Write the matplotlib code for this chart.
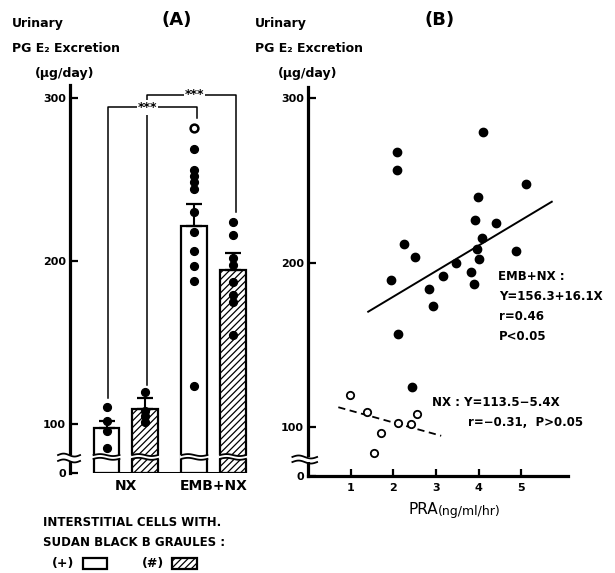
import numpy as np
import matplotlib
matplotlib.use("Agg")
import matplotlib.pyplot as plt
import matplotlib.transforms as mtransforms
from matplotlib.patches import Rectangle, Polygon

plt.rcParams['font.family'] = ['DejaVu Sans']
plt.rcParams['hatch.linewidth'] = 0.9

# ---------------- data ----------------
groups = ["NX", "EMB+NX"]
bar_means = [97.7, 109.2, 221.5, 194.5]
bar_sem = [4.2, 6.6, 13.5, 10.5]
bar_hatched = [False, True, False, True]

dots_nx_plus = [110.5, 101.7, 95.8, 85.1]
dots_nx_pp = [119.8, 108.0, 105.0, 101.5]
dots_emb_plus = [268.7, 255.8, 252.3, 248.7, 244.2, 230.2, 218.0, 206.1, 196.9, 187.9, 123.5]
dots_emb_plus_open = [281.4]
dots_emb_pp = [224.1, 216.0, 201.7, 197.5, 187.3, 179.1, 175.0, 154.6]

sig_labels = ["***", "***"]

emb_x = [2.09, 2.09, 4.11, 5.11, 3.98, 3.92, 4.41, 4.07, 3.95, 2.26, 2.51,
         4.87, 4.00, 3.47, 3.17, 3.81, 1.94, 2.84, 3.88, 2.92, 2.10, 2.43]
emb_y = [267.4, 256.3, 279.3, 247.6, 240.2, 226.2, 224.4, 214.8, 208.5, 211.6, 203.4,
         206.9, 202.4, 199.6, 191.8, 194.3, 189.2, 183.9, 187.2, 173.5, 156.3, 124.4]
nx_x = [0.98, 1.39, 2.11, 2.42, 2.55, 1.70, 1.55]
nx_y = [119.3, 109.1, 102.0, 101.6, 107.7, 95.9, 84.0]

emb_line_x = [1.41, 5.71]
emb_line_y = [170.1, 237.1]
nx_line_x = [0.71, 3.12]
nx_line_y = [111.9, 94.5]

yticks = [0, 100, 200, 300]
xticks_b = [1, 2, 3, 4, 5]

# ---------------- helpers ----------------
W, H = 615, 573
def fx(px): return px / W
def fy(py): return 1 - py / H

def fwd(v):
    v = np.asarray(v, float)
    return np.where(v < 80, v * 0.125, v - 70)
def inv(u):
    u = np.asarray(u, float)
    return np.where(u < 10, u / 0.125, u + 70)

fig = plt.figure(figsize=(W / 100, H / 100), dpi=100)
fig.patch.set_facecolor('white')

def style_axis(ax):
    ax.set_yscale('function', functions=(fwd, inv))
    for s in ['top', 'right']:
        ax.spines[s].set_visible(False)
    ax.spines['left'].set_linewidth(2.3)
    ax.set_yticks(yticks)
    ax.set_yticklabels([str(t) for t in yticks], fontsize=8, fontweight='bold')
    ax.tick_params(axis='y', direction='in', length=6, width=1.6, pad=3)

def axis_break(ax, f_lo, f_hi, x0, x1):
    tf = ax.transLimits + ax.transAxes
    bt = mtransforms.blended_transform_factory(ax.transAxes, tf)
    ax.add_patch(Rectangle((-0.02, f_lo), 0.04, f_hi - f_lo, transform=bt,
                           facecolor='white', edgecolor='none', zorder=5, clip_on=False))
    xs = np.linspace(x0, x1, 40)
    ph = np.linspace(0, 2 * np.pi, 40)
    for fc in (f_lo, f_hi):
        ax.plot(xs, fc + 0.9 * np.sin(ph), transform=bt, color='k', lw=1.3,
                zorder=6, clip_on=False)

# ---------------- Panel A ----------------
axA = fig.add_axes([fx(70), fy(473), (260 - 70) / W, (473 - 85) / H])
style_axis(axA)
axA.set_ylim(0, 308)
axA.set_xlim(-0.634, 1.526)
axA.spines['bottom'].set_visible(False)

gpos = np.arange(len(groups))
off, bw = 0.219, 0.295
bx = np.array([gpos[0] - off, gpos[0] + off, gpos[1] - off, gpos[1] + off])

for x, m, h in zip(bx, bar_means, bar_hatched):
    axA.bar(x, m, width=bw, bottom=0, facecolor='white', edgecolor='k',
            linewidth=1.6, hatch='/////' if h else None, zorder=2)
axA.errorbar(bx, bar_means, yerr=[np.zeros(4), bar_sem], fmt='none', ecolor='k',
             elinewidth=1.5, capsize=6, capthick=1.6, zorder=3)
axA.hlines(0, bx[0] - bw / 2, bx[-1] + bw / 2, color='k', lw=2.2, zorder=4)

# bar breaks
tfA = axA.transLimits + axA.transAxes
for x in bx:
    xs = np.linspace(x - bw / 2, x + bw / 2, 40)
    ph = np.linspace(0, 2 * np.pi, 40)
    lo = 8.7 + 0.6 * np.sin(ph)
    hi = 11.0 + 0.6 * np.sin(ph)
    xe = np.linspace(x - bw / 2 - 0.02, x + bw / 2 + 0.02, 40)
    poly = np.column_stack([np.concatenate([xe, xe[::-1]]),
                            np.concatenate([lo, hi[::-1]])])
    axA.add_patch(Polygon(poly, closed=True, facecolor='white', edgecolor='none',
                          transform=tfA, zorder=4.5))
    axA.plot(xs, lo, color='k', lw=1.3, transform=tfA, zorder=5)
    axA.plot(xs, hi, color='k', lw=1.3, transform=tfA, zorder=5)

axis_break(axA, 7.4, 11.0, -0.063, 0.053)

# dots
for x, vals in zip(bx, [dots_nx_plus, dots_nx_pp, dots_emb_plus, dots_emb_pp]):
    axA.plot([x] * len(vals), vals, 'o', color='k', ms=5.6, zorder=6, clip_on=False)
axA.plot([bx[2]] * len(dots_emb_plus_open), dots_emb_plus_open, 'o', mfc='white',
         mec='k', mew=1.8, ms=5.6, zorder=6)

# significance brackets
def bracket(x1, x2, yh, y1, y2, label, tx):
    axA.plot([x1, x1, x2, x2], [y1, yh, yh, y2], color='k', lw=1.1, zorder=3,
             clip_on=False)
    axA.text(tx, yh, label, ha='center', va='center', fontsize=9, fontweight='bold',
             bbox=dict(facecolor='white', edgecolor='none', pad=0.5), zorder=7)

bracket(bx[0] + 0.02, bx[2] + 0.03, 294.2, 116.3, 288.0, sig_labels[0], 0.247)
bracket(bx[1] + 0.02, bx[3] + 0.03, 302.1, 124.2, 229.8, sig_labels[1], 0.787)

axA.set_xticks(gpos)
axA.set_xticklabels(groups, fontsize=10, fontweight='bold')
axA.tick_params(axis='x', length=0, pad=4)

# ---------------- Panel B ----------------
axB = fig.add_axes([fx(308), fy(476), (568 - 308) / W, (476 - 87) / H])
style_axis(axB)
axB.set_ylim(0, 307)
axB.set_xlim(0, 6.09)
axB.spines['bottom'].set_linewidth(2.3)
axB.set_xticks(xticks_b)
axB.set_xticklabels([str(t) for t in xticks_b], fontsize=8, fontweight='bold')
axB.tick_params(axis='x', direction='in', length=5, width=1.6, pad=5)
axis_break(axB, 8.5, 11.6, -0.06, 0.035)

axB.plot(emb_x, emb_y, 'o', color='k', ms=6.0, zorder=4)
axB.plot(nx_x, nx_y, 'o', mfc='white', mec='k', mew=1.3, ms=5.3, zorder=4)
axB.plot(emb_line_x, emb_line_y, color='k', lw=1.4, zorder=3)
axB.plot(nx_line_x, nx_line_y, color='k', lw=1.3, ls=(0, (4, 2.5)), zorder=3)

# x label: "PRA" larger, units smaller
fig.text(fx(438), fy(510), "PRA", fontsize=11, ha='right', va='center')
fig.text(fx(438), fy(511), "(ng/ml/hr)", fontsize=9, ha='left', va='center')

# annotations in B
ann = dict(fontsize=8.5, fontweight='bold', ha='left', va='center')
fig.text(fx(498), fy(277), "EMB+NX :", **ann)
fig.text(fx(499), fy(297), "Y=156.3+16.1X", **ann)
fig.text(fx(499), fy(317), "r=0.46", **ann)
fig.text(fx(499), fy(337), "P<0.05", **ann)
fig.text(fx(432), fy(403), "NX : Y=113.5\u22125.4X", **ann)
fig.text(fx(468), fy(423), "r=\u22120.31,  P>0.05", **ann)

# ---------------- titles / labels ----------------
for x0, t, tx in [(12, "(A)", 177), (255, "(B)", 440)]:
    fig.text(fx(x0), fy(23), "Urinary", fontsize=9, fontweight='bold', ha='left', va='center')
    fig.text(fx(x0), fy(48), "PG E\u2082 Excretion", fontsize=9, fontweight='bold',
             ha='left', va='center')
    fig.text(fx(x0 + 23), fy(73), "(\u03bcg/day)", fontsize=9, fontweight='bold',
             ha='left', va='center')
    fig.text(fx(tx), fy(20), t, fontsize=13, fontweight='bold', ha='center', va='center')

# ---------------- legend ----------------
fig.text(fx(43), fy(522), "INTERSTITIAL CELLS WITH.", fontsize=8.5, fontweight='bold',
         ha='left', va='center')
fig.text(fx(43), fy(543), "SUDAN BLACK B GRAULES :", fontsize=8.5, fontweight='bold',
         ha='left', va='center')
fig.text(fx(52), fy(563), "(+)", fontsize=9, fontweight='bold', ha='left', va='center')
fig.text(fx(142), fy(563), "(#)", fontsize=9, fontweight='bold', ha='left', va='center')
fig.add_artist(Rectangle((fx(83), fy(569)), 24 / W, 11 / H, transform=fig.transFigure,
                         facecolor='white', edgecolor='k', lw=1.6))
fig.add_artist(Rectangle((fx(172), fy(569)), 25 / W, 11 / H, transform=fig.transFigure,
                         facecolor='white', edgecolor='k', lw=1.6, hatch='/////'))

fig.savefig("out.png", dpi=100, facecolor='white')
